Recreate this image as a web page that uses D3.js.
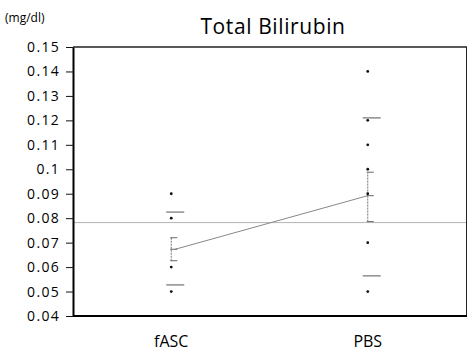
<!DOCTYPE html>
<html>
	<head>
		<meta charset="utf-8">
		<script src="https://cdnjs.cloudflare.com/ajax/libs/d3/7.8.5/d3.min.js" charset="utf-8"></script>
		<style>
			body {
				margin: 0;
				background: #fff;
				font-family: 'Open Sans', sans-serif;
			}
		</style>
	</head>
	<body>

		<div id="chart"></div>

		<script>

			var categories = ["fASC", "PBS"];
			var fascPoints = [0.09, 0.08, 0.06, 0.05];
			var pbsPoints = [0.14, 0.12, 0.11, 0.10, 0.09, 0.07, 0.05];
			var means = [0.0673, 0.0892];
			var seLow = [0.0626, 0.0786];
			var seHigh = [0.0720, 0.0988];
			var sdLow = [0.0527, 0.0564];
			var sdHigh = [0.0825, 0.1210];
			var grandMean = 0.0782;
			var yTicks = [0.04, 0.05, 0.06, 0.07, 0.08, 0.09, 0.1, 0.11, 0.12, 0.13, 0.14, 0.15];

			var margin = {top: 47, right: 3, bottom: 36, left: 73};
			var width = 470 - margin.left - margin.right,
				height = 352 - margin.top - margin.bottom;

			var svg = d3.select("#chart")
				.append("svg")
				.attr("width", 470)
				.attr("height", 352);

			var g = svg.append("g")
				.attr("transform", "translate(" + margin.left + "," + margin.top + ")");

			var x = d3.scalePoint()
				.domain(categories)
				.range([0, width - 1])
				.padding(0.5);

			var y = d3.scaleLinear()
				.domain([0.04, 0.15])
				.range([height, 0]);

			//titles
			svg.append("text")
				.attr("x", 273)
				.attr("y", 34)
				.attr("text-anchor", "middle")
				.style("font-size", "21px")
				.style("letter-spacing", "0.6px")
				.style("fill", "#000")
				.text("Total Bilirubin");

			svg.append("text")
				.attr("x", 5)
				.attr("y", 22)
				.style("font-size", "12px")
				.style("fill", "#000")
				.text("(mg/dl)");

			//grand mean line
			g.append("line")
				.attr("x1", 0).attr("x2", width)
				.attr("y1", y(grandMean)).attr("y2", y(grandMean))
				.style("stroke", "#b5b5b5")
				.style("stroke-width", 1);

			//frame
			g.append("line")
				.attr("x1", 0).attr("x2", width)
				.attr("y1", 0).attr("y2", 0)
				.style("stroke", "#222").style("stroke-width", 1.5);
			g.append("line")
				.attr("x1", width - 0.5).attr("x2", width - 0.5)
				.attr("y1", 0).attr("y2", height)
				.style("stroke", "#222").style("stroke-width", 1);
			g.append("line")
				.attr("x1", 0).attr("x2", width)
				.attr("y1", height).attr("y2", height)
				.style("stroke", "#000").style("stroke-width", 2);

			var yAxis = g.append("g")
				.call(d3.axisLeft(y)
					.tickValues(yTicks)
					.tickSize(7)
					.tickSizeOuter(0)
					.tickPadding(6)
					.tickFormat(function(d) { return +d.toFixed(2) + ""; }));

			yAxis.select(".domain").style("stroke", "#000").style("stroke-width", 2);
			yAxis.selectAll(".tick line").style("stroke", "#111");
			yAxis.selectAll("text")
				.style("font-family", "'Open Sans', sans-serif")
				.style("font-size", "14px")
				.style("letter-spacing", "1.3px")
				.style("fill", "#000");

			//category labels
			g.selectAll(".catLabel")
				.data(categories)
				.enter().append("text")
				.attr("class", "catLabel")
				.attr("x", function(d) { return x(d); })
				.attr("y", height + 31)
				.attr("text-anchor", "middle")
				.style("font-size", "16px")
				.style("fill", "#000")
				.text(function(d) { return d; });

			//mean connecting line
			g.append("line")
				.attr("x1", x(categories[0]) + 4).attr("y1", y(means[0]))
				.attr("x2", x(categories[1])).attr("y2", y(means[1]))
				.style("stroke", "#888")
				.style("stroke-width", 1);

			var stats = categories.map(function(c, i) {
				return {cat: c, mean: means[i], seLow: seLow[i], seHigh: seHigh[i], sdLow: sdLow[i], sdHigh: sdHigh[i]};
			});

			var grp = g.selectAll(".stat")
				.data(stats)
				.enter().append("g")
				.attr("class", "stat")
				.attr("transform", function(d) { return "translate(" + x(d.cat) + ",0)"; });

			//SE bars
			grp.append("line")
				.attr("x1", 0).attr("x2", 0)
				.attr("y1", function(d) { return y(d.seLow); })
				.attr("y2", function(d) { return y(d.seHigh); })
				.style("stroke", "#777")
				.style("stroke-dasharray", "2,1")
				.style("stroke-width", 1);
			grp.selectAll(".cap")
				.data(function(d) { return [d.seLow, d.seHigh, d.mean]; })
				.enter().append("line")
				.attr("class", "cap")
				.attr("x1", -1).attr("x2", 6)
				.attr("y1", function(v) { return y(v); })
				.attr("y2", function(v) { return y(v); })
				.style("stroke", "#666")
				.style("stroke-width", 1);

			//SD lines
			grp.selectAll(".sd")
				.data(function(d) { return [d.sdLow, d.sdHigh]; })
				.enter().append("line")
				.attr("class", "sd")
				.attr("x1", -5).attr("x2", 13)
				.attr("y1", function(v) { return y(v); })
				.attr("y2", function(v) { return y(v); })
				.style("stroke", "#555")
				.style("stroke-width", 1);

			//points
			var pts = [];
			fascPoints.forEach(function(v) { pts.push({cat: categories[0], v: v}); });
			pbsPoints.forEach(function(v) { pts.push({cat: categories[1], v: v}); });

			g.selectAll(".pt")
				.data(pts)
				.enter().append("circle")
				.attr("class", "pt")
				.attr("cx", function(d) { return x(d.cat); })
				.attr("cy", function(d) { return y(d.v); })
				.attr("r", 1.4)
				.style("fill", "#111");

		</script>

	</body>
</html>
